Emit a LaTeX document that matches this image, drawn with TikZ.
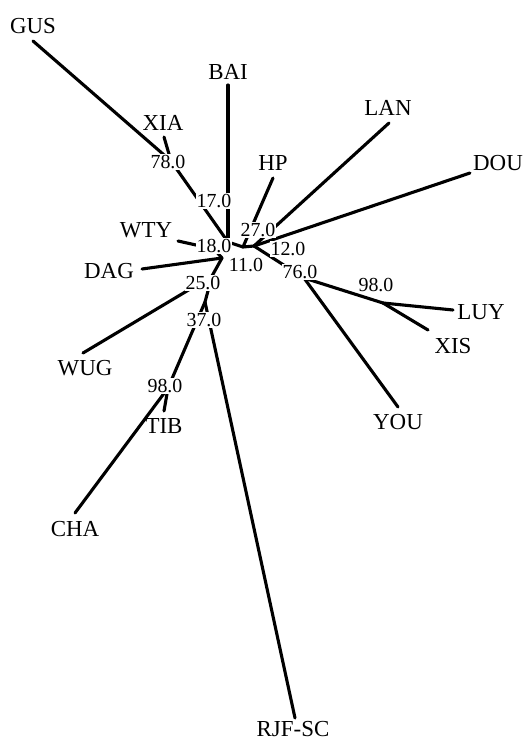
\documentclass[tikz,border=0pt]{standalone}
\usepackage{fontspec}
\setmainfont{Liberation Serif}
\begin{document}
\begin{tikzpicture}[x=1bp,y=-1bp,
  branch/.style={line width=3.1bp,line cap=round},
  taxon/.style={font=\fontsize{23}{23}\selectfont,inner sep=0pt,text depth=0pt},
  support/.style={font=\fontsize{20}{20}\selectfont,fill=white,inner sep=1bp,text depth=0pt}]
\useasboundingbox (0,0) rectangle (526,742);

% taxon names
\node[taxon] (GUS) at (33,26) {GUS};
\node[taxon] (BAI) at (228,72) {BAI};
\node[taxon] (XIA) at (163,123) {XIA};
\node[taxon] (LAN) at (388,108) {LAN};
\node[taxon] (HP) at (273,163) {HP};
\node[taxon] (DOU) at (498,163) {DOU};
\node[taxon] (WTY) at (146,230) {WTY};
\node[taxon] (DAG) at (109,271) {DAG};
\node[taxon] (LUY) at (481,312) {LUY};
\node[taxon] (XIS) at (453,346) {XIS};
\node[taxon] (WUG) at (85,368) {WUG};
\node[taxon] (YOU) at (398,422) {YOU};
\node[taxon] (TIB) at (164,426) {TIB};
\node[taxon] (CHA) at (75,529) {CHA};
\node[taxon] (RJF) at (293,729) {RJF-SC};

% free ends of the terminal branches
\coordinate (eGUS) at (33,41);
\coordinate (eXIA) at (164,137);
\coordinate (eBAI) at (228,85);
\coordinate (eHP) at (273,178);
\coordinate (eLAN) at (389,123);
\coordinate (eDOU) at (470,173);
\coordinate (eWTY) at (178,241);
\coordinate (eDAG) at (142,269);
\coordinate (eLUY) at (453,310);
\coordinate (eXIS) at (428,330);
\coordinate (eYOU) at (398,407);
\coordinate (eWUG) at (83,353);
\coordinate (eTIB) at (164,411);
\coordinate (eCHA) at (75,513);
\coordinate (eRJF) at (295,718);

% internal nodes
\coordinate (nA) at (171,161);
\coordinate (nN1) at (228,242);
\coordinate (nP) at (214,249);
\coordinate (nC) at (222,258);
\coordinate (nH) at (243,247);
\coordinate (nN2) at (254,246);
\coordinate (nD) at (304,278);
\coordinate (nE) at (383,303);
\coordinate (nF) at (212,276);
\coordinate (nG) at (205,302);
\coordinate (nK) at (168,388);

% branches
\draw[branch] (eGUS) -- (nA);
\draw[branch] (eXIA) -- (nA);
\draw[branch] (nA) -- (nN1);
\draw[branch] (eBAI) -- (nN1);
\draw[branch] (eWTY) -- (nP);
\draw[branch] (nP) -- (nN1);
\draw[branch] (nP) -- (nC);
\draw[branch] (eDAG) -- (nC);
\draw[branch] (nN1) -- (nH);
\draw[branch] (nH) -- (nN2);
\draw[branch] (eHP) -- (nH);
\draw[branch] (eLAN) -- (nN2);
\draw[branch] (eDOU) -- (nN2);
\draw[branch] (nN2) -- (nD);
\draw[branch] (nD) -- (nE);
\draw[branch] (nE) -- (eLUY);
\draw[branch] (nE) -- (eXIS);
\draw[branch] (nD) -- (eYOU);
\draw[branch] (nC) -- (nF);
\draw[branch] (nF) -- (eWUG);
\draw[branch] (nF) -- (nG);
\draw[branch] (nG) -- (nK);
\draw[branch] (nK) -- (eTIB);
\draw[branch] (nK) -- (eCHA);
\draw[branch] (nG) -- (eRJF);

% bootstrap support values
\node[support] (s78) at (168,162) {78.0};
\node[support] (s17) at (214,201) {17.0};
\node[support] (s27) at (258,230) {27.0};
\node[support] (s18) at (214,246) {18.0};
\node[support] (s12) at (288,249) {12.0};
\node[support] (s11) at (246,265) {11.0};
\node[support] (s76) at (300,272) {76.0};
\node[support] (s98a) at (376,285) {98.0};
\node[support] (s25) at (203,283) {25.0};
\node[support] (s37) at (204,320) {37.0};
\node[support] (s98b) at (165,386) {98.0};
\end{tikzpicture}
\end{document}
